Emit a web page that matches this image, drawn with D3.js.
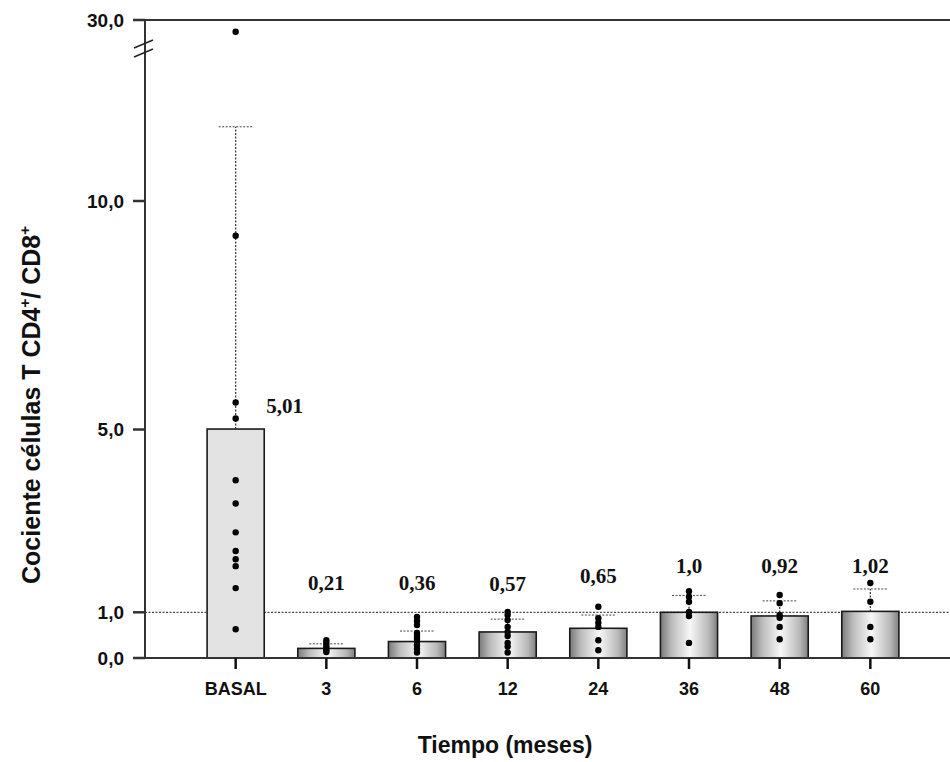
<!DOCTYPE html>
<html>
<head>
<meta charset="utf-8">
<script src="https://cdn.jsdelivr.net/npm/d3@7"></script>
<style>
  body { margin: 0; background: #fff; }
  svg { display: block; }
</style>
</head>
<body>
<svg id="chart" width="950" height="762"></svg>
<script>
// chart data
const categories = ["BASAL", "3", "6", "12", "24", "36", "48", "60"];
const means = [5.01, 0.21, 0.36, 0.57, 0.65, 1.0, 0.92, 1.02];
const meanLabels = ["5,01", "0,21", "0,36", "0,57", "0,65", "1,0", "0,92", "1,02"];
const errorTops = [18.2, 0.31, 0.59, 0.85, 0.94, 1.37, 1.25, 1.51];
const labelLevels = [5.52, 1.64, 1.64, 1.62, 1.81, 2.03, 2.03, 2.03];
const points = [
  [28.7, 9.24, 5.59, 5.24, 3.89, 3.38, 2.75, 2.34, 2.16, 2.01, 1.53, 0.63],
  [0.39, 0.33, 0.27, 0.22, 0.17, 0.13],
  [0.90, 0.81, 0.72, 0.55, 0.48, 0.42, 0.35, 0.28, 0.20, 0.12],
  [1.01, 0.94, 0.83, 0.68, 0.57, 0.48, 0.33, 0.25, 0.12],
  [1.12, 0.87, 0.77, 0.68, 0.39, 0.17],
  [1.46, 1.34, 1.23, 1.01, 0.92, 0.33],
  [1.38, 1.20, 0.94, 0.88, 0.68, 0.41],
  [1.64, 1.23, 0.68, 0.41]
];
const yTickValues = [0, 1, 5, 10, 30];
const yTickLabels = ["0,0", "1,0", "5,0", "10,0", "30,0"];
const refLine = 1.0;

const svg = d3.select("#chart");
const axisColour = "#333";
const sans = "'Liberation Sans', Arial, sans-serif";

const x = d3.scaleBand()
  .domain(categories)
  .range([145, 961])
  .paddingInner(0.37)
  .paddingOuter(0.685);

// broken axis: 0-10 linear, 10-30 compressed
const y = d3.scaleLinear()
  .domain([0, 10, 30])
  .range([658, 201, 20]);

const defs = svg.append("defs");
const grad = defs.append("linearGradient")
  .attr("id", "barGrad")
  .attr("x1", "0%").attr("x2", "100%")
  .attr("y1", "0%").attr("y2", "0%");
grad.append("stop").attr("offset", "0%").attr("stop-color", "#7a7a7a");
grad.append("stop").attr("offset", "20%").attr("stop-color", "#bdbdbd");
grad.append("stop").attr("offset", "52%").attr("stop-color", "#f7f7f7");
grad.append("stop").attr("offset", "85%").attr("stop-color", "#b8b8b8");
grad.append("stop").attr("offset", "100%").attr("stop-color", "#808080");

const rows = categories.map((c, i) => ({
  cat: c, mean: means[i], label: meanLabels[i], top: errorTops[i],
  level: labelLevels[i], pts: points[i]
}));

// reference line at 1.0
svg.append("line")
  .attr("x1", 145).attr("x2", 950)
  .attr("y1", y(refLine)).attr("y2", y(refLine))
  .attr("stroke", "#222")
  .attr("stroke-width", 1)
  .attr("stroke-dasharray", "2,1.5");

// bars
svg.append("g").attr("class", "bars")
  .selectAll("rect")
  .data(rows)
  .join("rect")
  .attr("x", d => x(d.cat))
  .attr("y", d => y(d.mean))
  .attr("width", x.bandwidth())
  .attr("height", d => y(0) - y(d.mean))
  .attr("fill", (d, i) => i === 0 ? "#e3e3e3" : "url(#barGrad)")
  .attr("stroke", "#1a1a1a")
  .attr("stroke-width", 1.6);

// error bars (dotted)
const errG = svg.append("g").attr("class", "errors");
errG.selectAll("line.stem")
  .data(rows)
  .join("line")
  .attr("class", "stem")
  .attr("x1", d => x(d.cat) + x.bandwidth() / 2)
  .attr("x2", d => x(d.cat) + x.bandwidth() / 2)
  .attr("y1", d => y(d.mean))
  .attr("y2", d => y(d.top))
  .attr("stroke", "#333")
  .attr("stroke-width", 1.2)
  .attr("stroke-dasharray", "2,1.5");
errG.selectAll("line.cap")
  .data(rows)
  .join("line")
  .attr("class", "cap")
  .attr("x1", d => x(d.cat) + x.bandwidth() / 2 - 17)
  .attr("x2", d => x(d.cat) + x.bandwidth() / 2 + 17)
  .attr("y1", d => y(d.top))
  .attr("y2", d => y(d.top))
  .attr("stroke", "#444")
  .attr("stroke-width", 1)
  .attr("stroke-dasharray", "2,1.5");

// individual points
svg.append("g").attr("class", "points")
  .selectAll("g")
  .data(rows)
  .join("g")
  .selectAll("circle")
  .data(d => d.pts.map(v => ({ cat: d.cat, v })))
  .join("circle")
  .attr("cx", d => x(d.cat) + x.bandwidth() / 2)
  .attr("cy", d => y(d.v))
  .attr("r", 3.2)
  .attr("fill", "#000");

// value labels
svg.append("g").attr("class", "valueLabels")
  .selectAll("text")
  .data(rows)
  .join("text")
  .attr("x", (d, i) => i === 0 ? x(d.cat) + x.bandwidth() + 2 : x(d.cat) + x.bandwidth() / 2)
  .attr("y", d => y(d.level))
  .attr("dy", "0.35em")
  .attr("text-anchor", (d, i) => i === 0 ? "start" : "middle")
  .attr("font-family", "'Liberation Serif', 'Times New Roman', serif")
  .attr("font-weight", "bold")
  .attr("font-size", 21)
  .attr("fill", "#111")
  .text(d => d.label);

// axes lines
svg.append("line")
  .attr("x1", 145).attr("x2", 145)
  .attr("y1", y(30)).attr("y2", y(0))
  .attr("stroke", axisColour).attr("stroke-width", 2);
svg.append("line")
  .attr("x1", 145).attr("x2", 950)
  .attr("y1", y(30)).attr("y2", y(30))
  .attr("stroke", axisColour).attr("stroke-width", 2);
svg.append("line")
  .attr("x1", 135).attr("x2", 950)
  .attr("y1", y(0)).attr("y2", y(0))
  .attr("stroke", axisColour).attr("stroke-width", 2);

// y ticks
const yTicks = svg.append("g").attr("class", "yTicks")
  .selectAll("g")
  .data(yTickValues.map((v, i) => ({ v, label: yTickLabels[i] })))
  .join("g")
  .attr("transform", d => `translate(0,${y(d.v)})`);
yTicks.append("line")
  .attr("x1", 133).attr("x2", 145)
  .attr("stroke", axisColour).attr("stroke-width", 2.5);
yTicks.append("text")
  .attr("x", 124)
  .attr("dy", "0.35em")
  .attr("text-anchor", "end")
  .attr("font-family", sans)
  .attr("font-weight", "bold")
  .attr("font-size", 19)
  .attr("fill", "#111")
  .text(d => d.label);

// axis break marks
const brk = svg.append("g").attr("class", "break");
[0, 9].forEach(off => {
  brk.append("line")
    .attr("x1", 134).attr("x2", 153)
    .attr("y1", y(27.35) + off + 4).attr("y2", y(27.35) + off - 4)
    .attr("stroke", "#222").attr("stroke-width", 1.5);
});

// x ticks and labels
const xTicks = svg.append("g").attr("class", "xTicks")
  .selectAll("g")
  .data(categories)
  .join("g")
  .attr("transform", d => `translate(${x(d) + x.bandwidth() / 2},${y(0)})`);
xTicks.append("line")
  .attr("y1", 0).attr("y2", 11)
  .attr("stroke", "#111").attr("stroke-width", 2.5);
xTicks.append("text")
  .attr("y", 37)
  .attr("text-anchor", "middle")
  .attr("font-family", sans)
  .attr("font-weight", "bold")
  .attr("font-size", 18)
  .attr("fill", "#111")
  .text(d => d);

// axis titles
svg.append("text")
  .attr("x", 505)
  .attr("y", 753)
  .attr("text-anchor", "middle")
  .attr("font-family", sans)
  .attr("font-weight", "bold")
  .attr("font-size", 23)
  .attr("fill", "#111")
  .text("Tiempo (meses)");

const yTitle = svg.append("text")
  .attr("transform", "translate(40,405) rotate(-90)")
  .attr("text-anchor", "middle")
  .attr("font-family", sans)
  .attr("font-weight", "bold")
  .attr("font-size", 25)
  .attr("fill", "#111");
yTitle.append("tspan").text("Cociente células T CD4");
yTitle.append("tspan").attr("font-size", 15).attr("dy", -10).text("+");
yTitle.append("tspan").attr("dy", 10).text("/ CD8");
yTitle.append("tspan").attr("font-size", 15).attr("dy", -10).text("+");
</script>
</body>
</html>
